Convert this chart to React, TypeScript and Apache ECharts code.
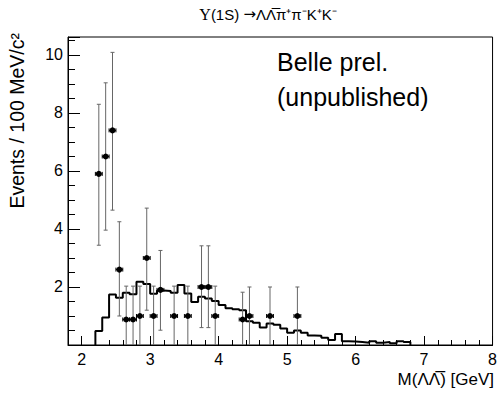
import React, { useEffect, useRef } from 'react';
import * as echarts from 'echarts';

// Histogram (MC / expectation), 0.1 GeV bins starting at 2.2 GeV
const histStart = 2.2;
const histWidth = 0.1;
const histValues = [
  0.48, 0.95, 1.74, 1.63, 1.8, 1.75, 2.18, 2.1, 1.77, 1.88,
  1.86, 1.8, 2.07, 1.78, 1.48, 1.66, 1.6, 1.52, 1.38, 1.27,
  1.23, 1.2, 0.82, 0.77, 0.6, 0.74, 0.7, 0.57, 0.42, 0.5,
  0.42, 0.33, 0.32, 0.25, 0.17, 0.38, 0.13, 0.12, 0.1, 0.08,
  0.13, 0.08, 0.1, 0.06, 0.13, 0.1,
];

// Data points with asymmetric errors
const ptX = [2.25, 2.35, 2.45, 2.55, 2.65, 2.75, 2.85, 2.95, 3.05, 3.15, 3.35, 3.55, 3.75, 3.85, 3.95, 4.35, 4.45, 4.75, 5.15];
const ptY = [5.9, 6.5, 7.4, 2.6, 0.88, 0.88, 1.0, 3.0, 1.0, 1.9, 1.0, 1.0, 2.0, 2.0, 1.0, 0.88, 1.0, 1.0, 1.0];
const ptLo = [3.44, 3.96, 4.65, 1.0, 0, 0, 0, 1.2, 0, 0.51, 0, 0, 0.6, 0.6, 0, 0, 0, 0, 0];
const ptHi = [8.3, 9.04, 10.09, 4.25, 2.03, 2.03, 2.03, 4.72, 2.03, 3.26, 2.03, 2.03, 3.42, 3.42, 2.03, 1.82, 2.0, 2.0, 2.0];
const xErr = 0.05;

const xMajorTicks = [2, 3, 4, 5, 6, 7, 8];
const xMinorStep = 0.2;
const X_MIN = 1.8;
const X_MAX = 8;
const Y_MIN = 0;
const Y_MAX = 10.62;

const FONT = 'Liberation Sans, Arial, Helvetica, sans-serif';

export default function App() {
  const ref = useRef<HTMLDivElement>(null);
  useEffect(() => {
    document.body.style.margin = '0';
    const chart = echarts.init(ref.current as HTMLDivElement, null, { renderer: 'svg' });

    const histData: number[][] = [[histStart, 0]];
    histValues.forEach((v, i) => histData.push([+(histStart + i * histWidth).toFixed(3), v]));
    histData.push([+(histStart + histValues.length * histWidth).toFixed(3), 0]);

    const minorTicks: number[] = [];
    for (let k = 0; ; k++) {
      const v = +(X_MIN + k * xMinorStep).toFixed(3);
      if (v > X_MAX + 1e-9) break;
      minorTicks.push(v);
    }

    const pts = ptX.map((x, i) => [x, ptY[i], ptLo[i], ptHi[i]]);

    const axisCommon = { splitLine: { show: false } };

    chart.setOption({
      animation: false,
      grid: { left: 68, right: 6, top: 37, bottom: 49, show: true, borderColor: '#000', borderWidth: 1, backgroundColor: 'transparent' },
      xAxis: [
        {
          type: 'value', min: X_MIN, max: X_MAX, position: 'bottom', ...axisCommon,
          axisLine: { show: true, lineStyle: { color: '#000', width: 1 } },
          axisTick: { show: true, inside: true, length: 5, customValues: minorTicks, lineStyle: { color: '#000' } },
          axisLabel: { show: false },
        },
        {
          type: 'value', min: X_MIN, max: X_MAX, position: 'bottom', ...axisCommon,
          axisLine: { show: false },
          axisTick: { show: true, inside: true, length: 9, customValues: xMajorTicks, lineStyle: { color: '#000' } },
          axisLabel: { show: true, customValues: xMajorTicks, color: '#000', fontSize: 16, fontFamily: FONT, margin: 6 },
        },
      ],
      yAxis: [
        {
          type: 'value', min: Y_MIN, max: Y_MAX, interval: 0.5, position: 'left', ...axisCommon,
          axisLine: { show: true, lineStyle: { color: '#000', width: 1 } },
          axisTick: { show: true, inside: true, length: 7, lineStyle: { color: '#000' } },
          axisLabel: { show: false },
        },
        {
          type: 'value', min: Y_MIN, max: Y_MAX, interval: 2, position: 'left', ...axisCommon,
          axisLine: { show: false },
          axisTick: { show: true, inside: true, length: 12, lineStyle: { color: '#000' } },
          axisLabel: {
            show: true, color: '#000', fontSize: 16, fontFamily: FONT, margin: 5,
            formatter: (v: number) => (v > 0 && Math.abs(v - Math.round(v)) < 1e-6 ? String(Math.round(v)) : ''),
          },
        },
      ],
      series: [
        {
          type: 'line', xAxisIndex: 0, yAxisIndex: 0, data: histData, step: 'end',
          showSymbol: false, symbol: 'none', lineStyle: { color: '#000', width: 2 }, z: 2, silent: true,
        },
        {
          type: 'custom', xAxisIndex: 0, yAxisIndex: 0, data: pts, z: 3,
          encode: { x: 0, y: 1 },
          renderItem: (params: any, api: any) => {
            const x = api.value(0), y = api.value(1), lo = api.value(2), hi = api.value(3);
            const c = api.coord([x, y]);
            const t = api.coord([x, hi]);
            const b = api.coord([x, lo]);
            const l = api.coord([x - xErr, y]);
            const r = api.coord([x + xErr, y]);
            const vs = { stroke: '#666', lineWidth: 1 };
            const hs = { stroke: '#000', lineWidth: 1 };
            const children: any[] = [
              { type: 'line', shape: { x1: c[0], y1: t[1], x2: c[0], y2: b[1] }, style: vs },
              { type: 'line', shape: { x1: c[0] - 2, y1: t[1], x2: c[0] + 2, y2: t[1] }, style: vs },
              { type: 'line', shape: { x1: l[0], y1: c[1], x2: r[0], y2: c[1] }, style: hs },
              { type: 'line', shape: { x1: l[0], y1: c[1] - 2, x2: l[0], y2: c[1] + 2 }, style: hs },
              { type: 'line', shape: { x1: r[0], y1: c[1] - 2, x2: r[0], y2: c[1] + 2 }, style: hs },
              { type: 'circle', shape: { cx: c[0], cy: c[1], r: 3 }, style: { fill: '#000' } },
            ];
            if (lo > 0) {
              children.push({ type: 'line', shape: { x1: c[0] - 2, y1: b[1], x2: c[0] + 2, y2: b[1] }, style: vs });
            }
            return { type: 'group', children };
          },
        },
      ],
      graphic: [
        {
          type: 'text', x: 268, y: 14,
          style: {
            text: '{s|\u03A5}(1S) {a|\u2192}\u039B\u039B\u0305\u03C0\u207A\u03C0\u207BK\u207AK\u207B',
            rich: {
              s: { fontFamily: 'Liberation Serif, serif', fontSize: 16, fill: '#000' },
              a: { fontFamily: 'DejaVu Sans, sans-serif', fontSize: 15, fill: '#000' },
            },
            fontFamily: FONT, fontSize: 15, fill: '#000', align: 'center', verticalAlign: 'middle',
          },
        },
        {
          type: 'text', x: 277, y: 44,
          style: { text: 'Belle prel.\n(unpublished)', fontFamily: FONT, fontSize: 25, lineHeight: 35, fill: '#000', align: 'left', verticalAlign: 'top' },
        },
        {
          type: 'text', x: 494, y: 379,
          style: { text: 'M(\u039B\u039B\u0305) [GeV]', fontFamily: FONT, fontSize: 17, fill: '#000', align: 'right', verticalAlign: 'middle' },
        },
        {
          type: 'text', x: 17, y: 33, rotation: Math.PI / 2,
          style: { text: 'Events / 100 MeV/c\u00B2', fontFamily: FONT, fontSize: 19.5, fill: '#000', align: 'right', verticalAlign: 'middle' },
        },
      ],
    });
    return () => chart.dispose();
  }, []);
  return <div ref={ref} style={{ width: 500, height: 394 }} />;
}
